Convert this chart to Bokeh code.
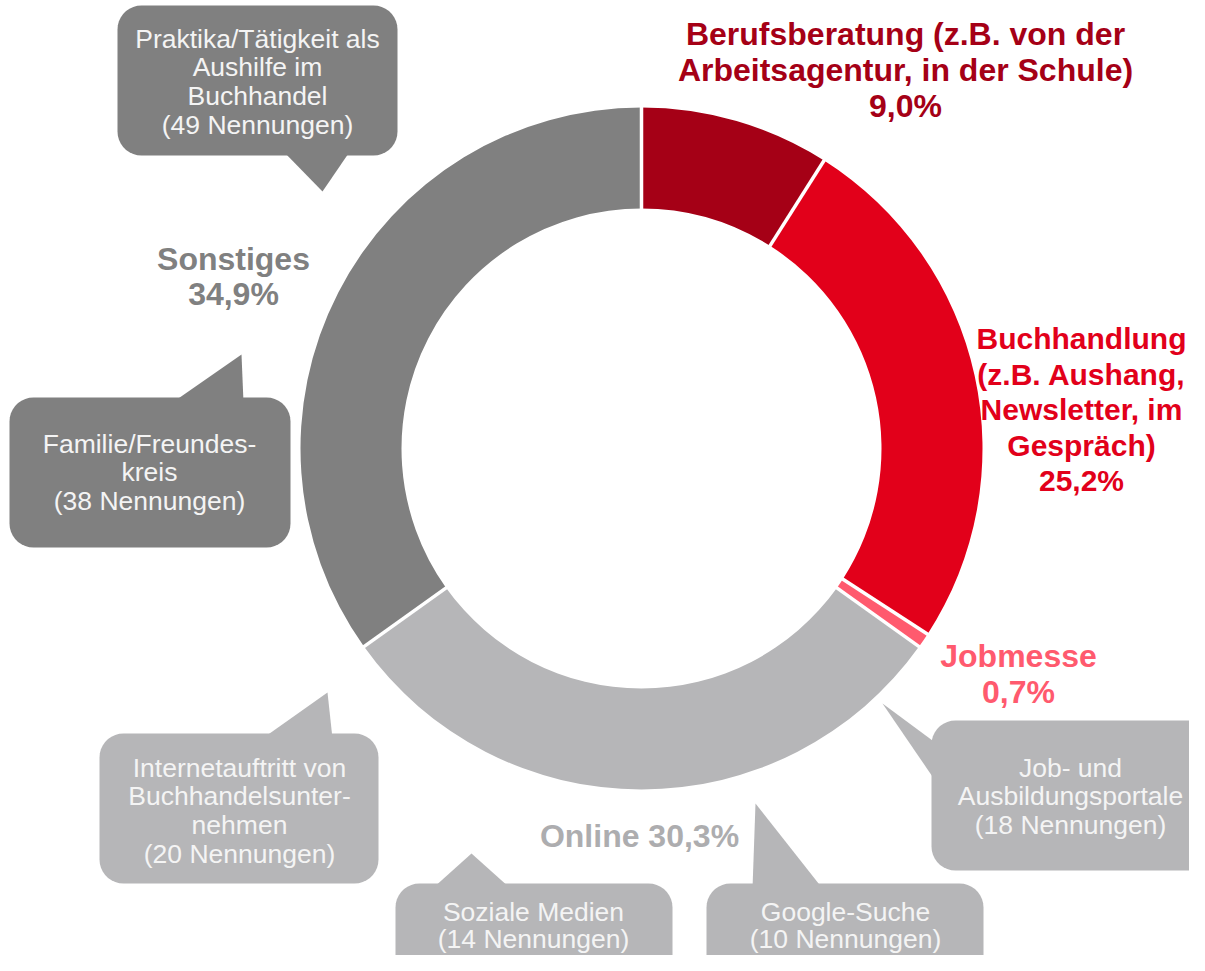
import numpy as np
from bokeh.plotting import figure
from bokeh.models import Range1d
from bokeh.core.properties import value
from bokeh.embed import file_html
from bokeh.resources import INLINE

# ---------------- data ----------------
categories = ["Berufsberatung", "Buchhandlung", "Jobmesse", "Online", "Sonstiges"]
shares = [9.0, 25.2, 0.7, 30.3, 34.9]
colors = ["#A50016", "#E2001A", "#FF5A6E", "#B6B6B8", "#808080"]
label_colors = ["#A50016", "#E2001A", "#FF5A6E", "#ADADAF", "#808080"]
label_lines = [
    ["Berufsberatung (z.B. von der", "Arbeitsagentur, in der Schule)", "9,0%"],
    ["Buchhandlung", "(z.B. Aushang,", "Newsletter, im", "Gespräch)", "25,2%"],
    ["Jobmesse", "0,7%"],
    ["Online 30,3%"],
    ["Sonstiges", "34,9%"],
]

callout_texts = [
    ["Praktika/Tätigkeit als", "Aushilfe im", "Buchhandel"],
    ["Familie/Freundes-", "kreis"],
    ["Internetauftritt von", "Buchhandelsunter-", "nehmen"],
    ["Soziale Medien"],
    ["Google-Suche"],
    ["Job- und", "Ausbildungsportale"],
]
callout_mentions = [49, 38, 20, 14, 10, 18]
callout_group = ["Sonstiges", "Sonstiges", "Online", "Online", "Online", "Online"]

# ---------------- layout (picture pixel coords, y down) ----------------
W, H = 1189, 955
def Y(y):
    return H - y

cx, cy = 641, 448
r_out, r_in = 341, 240

# label anchors: (center x, first line y, line spacing, font size)
label_pos = [(905, 33, 36, "32px"), (1081, 338, 35.5, "30px"), (1018, 655, 36, "32px"),
             (639, 835, 36, "32px"), (233, 258, 35, "32px")]

callout_boxes = [
    (117, 5, 397, 155),
    (9, 397, 290, 547),
    (99, 733, 378, 883),
    (395, 883, 672, 1010),
    (706, 883, 983, 1010),
    (931, 720, 1215, 870),
]
callout_tails = [
    [(282, 150), (322, 191), (350, 150)],
    [(172, 402), (241, 354), (243, 402)],
    [(262, 738), (327, 692), (332, 738)],
    [(432, 888), (471, 853), (510, 888)],
    [(752, 888), (755, 803), (822, 888)],
    [(936, 743), (882, 703), (936, 782)],
]
# (center x, first line y, line spacing)
callout_textpos = [(257, 38, 28.8), (149, 443, 28.8), (239, 767, 28.8),
                   (533, 911, 27), (845, 911, 27), (1070, 767, 28.8)]

group_color = {"Sonstiges": "#808080", "Online": "#B6B6B8"}

p = figure(width=W, height=H, output_backend="svg", toolbar_location=None,
           x_range=Range1d(0, W), y_range=Range1d(0, H),
           min_border=0, outline_line_color=None, background_fill_color="white",
           border_fill_color="white")
p.axis.visible = False
p.xgrid.visible = False
p.ygrid.visible = False

# ---------------- donut ----------------
total = sum(shares)
cum = np.concatenate([[0], np.cumsum(shares)]) / total
starts = np.pi / 2 - 2 * np.pi * cum[:-1]
ends = np.pi / 2 - 2 * np.pi * cum[1:]
p.annular_wedge(x=cx, y=Y(cy), inner_radius=r_in, outer_radius=r_out,
                start_angle=starts, end_angle=ends, direction="clock",
                fill_color=colors, line_color=None)
ang = starts
p.segment(x0=cx + (r_in - 3) * np.cos(ang), y0=Y(cy) + (r_in - 3) * np.sin(ang),
          x1=cx + (r_out + 3) * np.cos(ang), y1=Y(cy) + (r_out + 3) * np.sin(ang),
          line_color="white", line_width=3.5)

# ---------------- callouts ----------------
def rounded_rect(x0, y0, x1, y1, r, n=10):
    pts = []
    corners = [(x1 - r, y0 + r, -90, 0), (x1 - r, y1 - r, 0, 90),
               (x0 + r, y1 - r, 90, 180), (x0 + r, y0 + r, 180, 270)]
    for ccx, ccy, a0, a1 in corners:
        for a in np.linspace(np.radians(a0), np.radians(a1), n):
            pts.append((ccx + r * np.cos(a), ccy + r * np.sin(a)))
    return [q[0] for q in pts], [Y(q[1]) for q in pts]

xs, ys, fc = [], [], []
for box, tail, grp in zip(callout_boxes, callout_tails, callout_group):
    bx, by = rounded_rect(*box, 24)
    xs.append(bx); ys.append(by); fc.append(group_color[grp])
    xs.append([t[0] for t in tail]); ys.append([Y(t[1]) for t in tail]); fc.append(group_color[grp])
p.patches(xs=xs, ys=ys, fill_color=fc, line_color=None)

tx, ty, tt = [], [], []
for lines, n, (x, y0, dy) in zip(callout_texts, callout_mentions, callout_textpos):
    all_lines = lines + [f"({n} Nennungen)"]
    for i, s in enumerate(all_lines):
        tx.append(x); ty.append(Y(y0 + i * dy)); tt.append(s)
p.text(x=tx, y=ty, text=tt, text_align="center", text_baseline="middle",
       text_font=value("Liberation Sans"), text_font_size="26.5px", text_color="#F4F4F4")

# ---------------- segment labels ----------------
for lines, col, (x, y0, dy, fs) in zip(label_lines, label_colors, label_pos):
    p.text(x=[x] * len(lines), y=[Y(y0 + i * dy) for i in range(len(lines))], text=lines,
           text_align="center", text_baseline="middle",
           text_font=value("Liberation Sans"), text_font_style="bold",
           text_font_size=fs, text_color=col)

open("out.html", "w").write(file_html(p, INLINE))
